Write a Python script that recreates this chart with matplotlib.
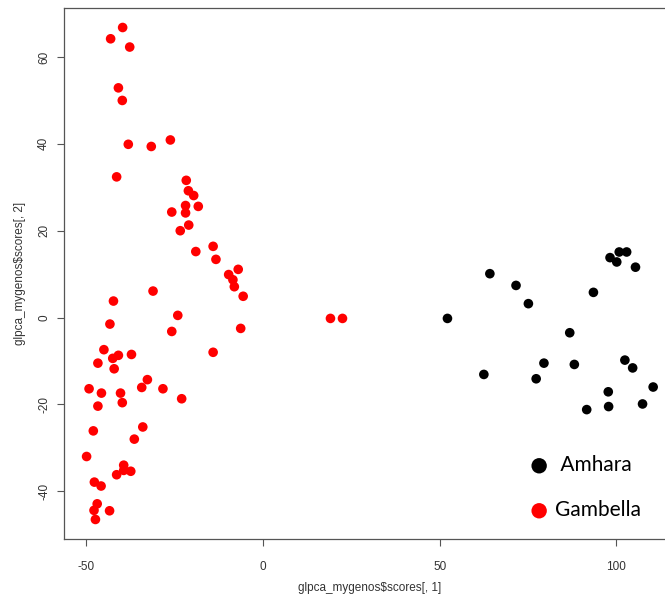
import matplotlib
matplotlib.use("Agg")
import matplotlib.pyplot as plt

# PCA scores
gambella_x = [-39.7, -43.1, -37.7, -40.9, -39.8, -38.1, -31.6, -26.2, -41.4, -21.7,
              -21.1, -19.6, -21.9, -18.3, -25.8, -21.9, -21.0, -23.4, -14.1, -19.0,
              -13.3, -7.0, -9.7, -8.5, -8.1, -5.6, -31.1, -42.3, -24.1, -43.3,
              -25.8, -6.3, -45.0, -37.2, -40.9, -42.5, -46.7, -42.1, -14.1, -32.7,
              -34.3, -28.3, -49.2, -45.7, -40.3, -23.0, -39.8, -46.7, -34.0, -48.0,
              -36.4, -49.9, -39.4, -39.4, -37.4, -41.4, -47.7, -45.8, -46.9, -47.8,
              -43.4, -47.4, 19.1, 22.5]
gambella_y = [66.8, 64.2, 62.3, 52.9, 50.0, 39.9, 39.4, 40.9, 32.4, 31.6,
              29.2, 28.1, 25.8, 25.6, 24.3, 24.1, 21.3, 20.0, 16.4, 15.2,
              13.4, 11.1, 9.9, 8.7, 7.1, 4.9, 6.1, 3.8, 0.5, -1.5,
              -3.2, -2.5, -7.4, -8.5, -8.7, -9.4, -10.5, -11.8, -8.0, -14.3,
              -16.1, -16.4, -16.4, -17.4, -17.4, -18.7, -19.6, -20.4, -25.2, -26.1,
              -28.0, -32.0, -34.0, -35.2, -35.4, -36.2, -37.9, -38.8, -42.9, -44.4,
              -44.5, -46.5, -0.2, -0.2]

amhara_x = [52.2, 64.2, 71.6, 75.1, 62.5, 79.5, 77.3, 86.8, 88.1, 93.5, 91.6,
            97.7, 97.8, 98.2, 100.1, 100.8, 102.9, 105.4, 102.4, 104.6, 110.4, 107.4]
amhara_y = [-0.2, 10.1, 7.4, 3.2, -13.1, -10.5, -14.1, -3.5, -10.8, 5.8, -21.2,
            -17.1, -20.5, 13.8, 12.8, 15.1, 15.1, 11.6, -9.8, -11.6, -16.0, -19.9]

x_ticks = [-50, 0, 50, 100]
y_ticks = [-40, -20, 0, 20, 40, 60]

fig = plt.figure(figsize=(6.65, 5.94), dpi=100)
ax = fig.add_axes([0.0962, 0.0926, 0.920, 0.894])

ax.scatter(amhara_x, amhara_y, s=48, color='black', edgecolors='none',
           label=' Amhara')
ax.scatter(gambella_x, gambella_y, s=48, color='#ff0000', edgecolors='none',
           label='Gambella')

ax.set_xlim(-56.3, 116.8)
ax.set_ylim(-51.0, 71.3)
ax.set_xticks(x_ticks)
ax.set_yticks(y_ticks)
ax.set_xticklabels([str(v) for v in x_ticks], family='Liberation Sans')
ax.set_yticklabels([str(v) for v in y_ticks], family='Liberation Sans',
                   rotation=90, va='center')
ax.tick_params(axis='both', direction='out', length=5, width=0.8,
               color='#555555', labelcolor='#333333', labelsize=8.5)
ax.tick_params(axis='x', pad=11)
ax.tick_params(axis='y', pad=5)
for side in ax.spines.values():
    side.set_color('#555555')
    side.set_linewidth(0.9)

ax.set_xlabel('glpca_mygenos\\$scores[, 1]', family='Liberation Sans',
              fontsize=8.5, color='#333333')
ax.set_ylabel('glpca_mygenos\\$scores[, 2]', family='Liberation Sans',
              fontsize=8.5, color='#333333')
ax.xaxis.set_label_coords(0.5, -0.081)
ax.yaxis.set_label_coords(-0.062, 0.5)

ax.legend(loc='lower left', bbox_to_anchor=(0.729, 0.0), frameon=False,
          prop={'family': 'Lato', 'size': 15}, markerscale=1.6,
          handletextpad=0.25, labelspacing=1.2, handlelength=1.0)

fig.savefig('out.png', dpi=100)
